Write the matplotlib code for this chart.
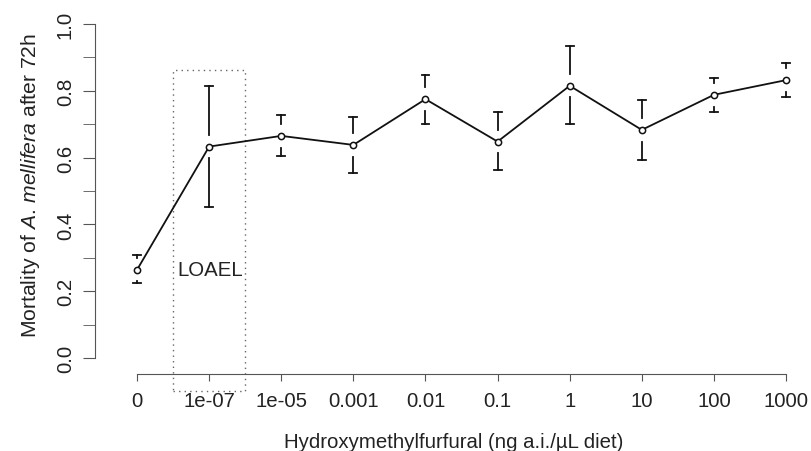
import matplotlib
matplotlib.use("Agg")
import matplotlib.pyplot as plt
from matplotlib.patches import Rectangle
from matplotlib.ticker import MultipleLocator

plt.rcParams['font.family'] = ['Liberation Sans', 'DejaVu Sans']
plt.rcParams['mathtext.fontset'] = 'custom'
plt.rcParams['mathtext.rm'] = 'Liberation Sans'
plt.rcParams['mathtext.it'] = 'Liberation Sans:italic'

# doses (categorical x axis)
doses = ["0", "1e-07", "1e-05", "0.001", "0.01", "0.1", "1", "10", "100", "1000"]
mortality = [0.264, 0.633, 0.665, 0.638, 0.775, 0.648, 0.815, 0.683, 0.788, 0.832]
upper = [0.309, 0.815, 0.728, 0.723, 0.848, 0.738, 0.934, 0.772, 0.838, 0.883]
lower = [0.224, 0.453, 0.606, 0.554, 0.702, 0.564, 0.702, 0.592, 0.737, 0.782]

GAP = 0.035  # plotCI style gap around the point
txt = "#222222"
axc = "#555555"
FS = 14.7

fig = plt.figure(figsize=(8.12, 4.52), dpi=100)
ax = fig.add_axes([95 / 812, 1 - 375 / 452, (812 - 95) / 812, (375 - 12) / 452])

x = list(range(len(doses)))

# error bars with gap around the point
for xi, m, hi, lo in zip(x, mortality, upper, lower):
    if hi > m + GAP:
        ax.plot([xi, xi], [m + GAP, hi], color="#111111", lw=1.3)
    ax.plot([xi - 0.055, xi + 0.055], [hi, hi], color="#111111", lw=1.3)
    if lo < m - GAP:
        ax.plot([xi, xi], [m - GAP, lo], color="#111111", lw=1.3)
    ax.plot([xi - 0.055, xi + 0.055], [lo, lo], color="#111111", lw=1.3)

ax.plot(x, mortality, color="#111111", lw=1.3, marker="o", ms=4.5,
        mfc="white", mec="#111111", mew=1.1, zorder=3)

# LOAEL box
ax.add_patch(Rectangle((0.5, -0.099), 1.0, 0.961, fill=False, ls=(0, (1, 3)),
                       lw=1.0, ec="#666666", clip_on=False))
ax.text(0.56, 0.265, "LOAEL", fontsize=FS, color=txt, ha="left", va="center")

ax.set_xlim(-0.583, 9.36)
ax.set_ylim(-0.048, 1.039)

for s in ["top", "right"]:
    ax.spines[s].set_visible(False)
ax.spines["left"].set_bounds(0, 1)
ax.spines["bottom"].set_bounds(0, 9)
ax.spines["left"].set_color(axc)
ax.spines["bottom"].set_color(axc)

ax.set_xticks(x)
ax.set_xticklabels(doses, fontsize=FS, color=txt)
ax.yaxis.set_major_locator(MultipleLocator(0.2))
ax.yaxis.set_minor_locator(MultipleLocator(0.1))
ax.set_yticks([0.0, 0.2, 0.4, 0.6, 0.8, 1.0])
ax.set_yticklabels(["0.0", "0.2", "0.4", "0.6", "0.8", "1.0"], fontsize=FS,
                   color=txt, rotation=90, va="center")
ax.tick_params(axis="y", which="both", length=8.5, color=axc, pad=6)
ax.tick_params(axis="x", length=5, color=axc, pad=7)

ax.set_xlabel("Hydroxymethylfurfural (ng a.i./\u00b5L diet)", fontsize=FS,
              color=txt, labelpad=16)
ax.set_ylabel(r"Mortality of $\mathit{A.\,mellifera}$ after 72h", fontsize=15.2,
              color=txt, labelpad=10)
ax.yaxis.label.set_y(0.523)

fig.savefig("out.png", dpi=100)
